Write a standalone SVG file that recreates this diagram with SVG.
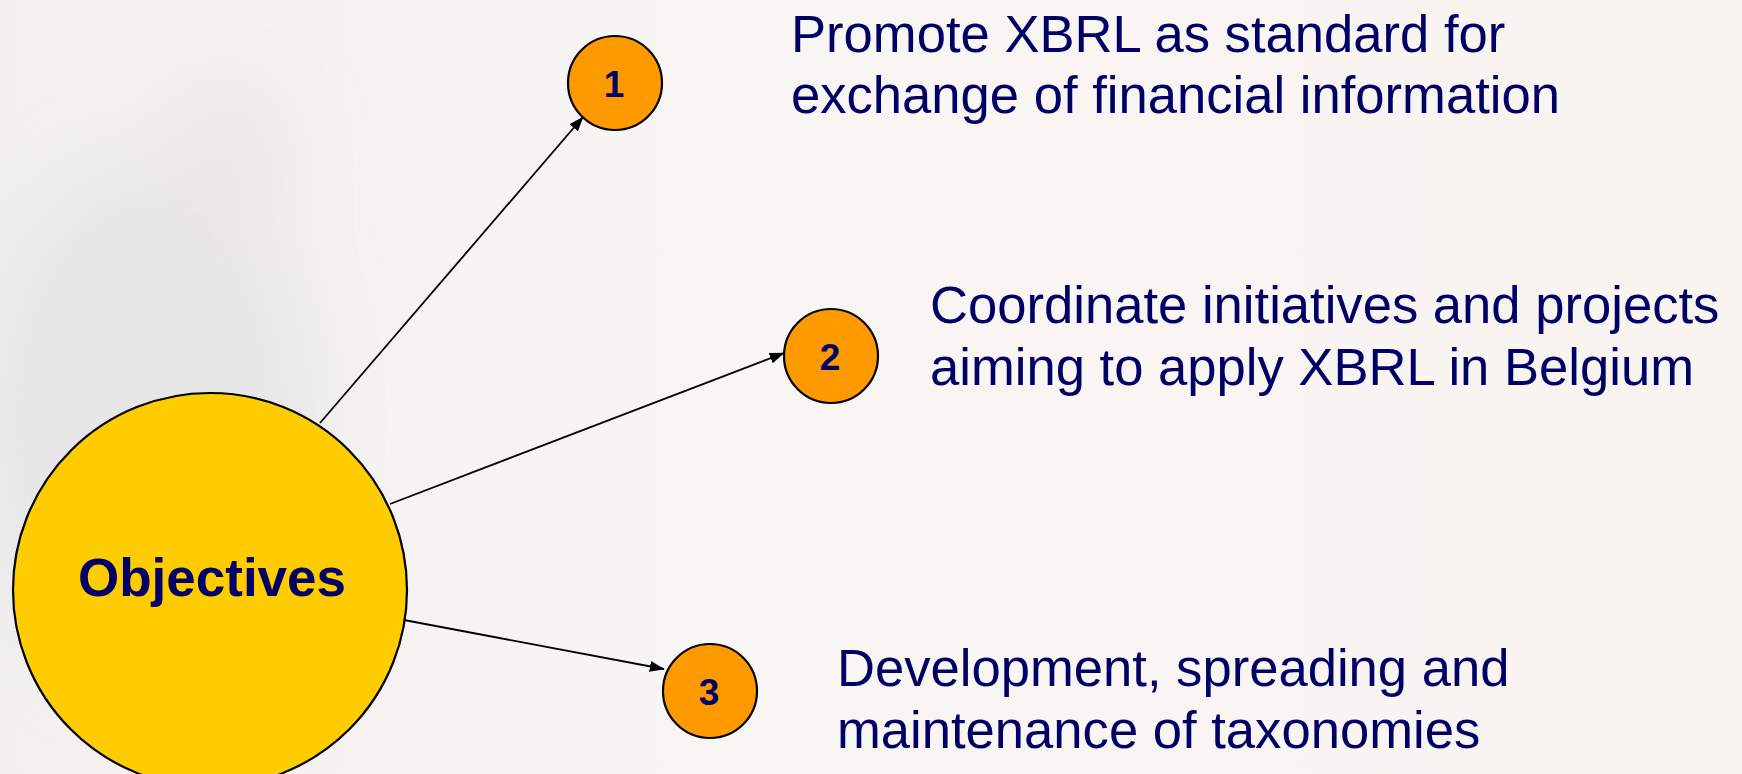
<svg xmlns="http://www.w3.org/2000/svg" width="1742" height="774" viewBox="0 0 1742 774">
<style>
.desc{font-family:"Liberation Sans",Arial,sans-serif;font-size:52.6px;fill:#000066}
.num{font-family:"Liberation Sans",Arial,sans-serif;font-size:37px;font-weight:bold;fill:#000066;text-anchor:middle}
.main{font-family:"Liberation Sans",Arial,sans-serif;font-size:53px;font-weight:bold;fill:#000066;text-anchor:middle}
.small{fill:#FF9900;stroke:#000;stroke-width:2.2}
.big{fill:#FFCC00;stroke:#000;stroke-width:2.2}
.conn line{stroke:#000;stroke-width:1.8;marker-end:url(#arr)}
</style>
<defs>
<marker id="arr" viewBox="0 0 10 10" refX="9.5" refY="5" markerWidth="15" markerHeight="11" markerUnits="userSpaceOnUse" orient="auto" preserveAspectRatio="none">
<path d="M0,0 L10,5 L0,10 z" fill="#000"/>
</marker>
<filter id="blur" x="-50%" y="-50%" width="200%" height="200%"><feGaussianBlur stdDeviation="40"/></filter>
<linearGradient id="bg" x1="0" y1="0" x2="1" y2="0">
<stop offset="0" stop-color="#f1f0ef"/>
<stop offset="0.4" stop-color="#f8f6f4"/>
<stop offset="1" stop-color="#f8f4f0"/>
</linearGradient>
</defs>
<rect width="1742" height="774" fill="url(#bg)"/>
<g filter="url(#blur)" opacity="0.7">
<ellipse cx="150" cy="420" rx="170" ry="260" fill="#e2e2e4"/>
<ellipse cx="230" cy="170" rx="60" ry="90" fill="#e6e4e0"/>
</g>
<g class="conn" id="connectors">
<line x1="320" y1="423" x2="583" y2="117"/>
<line x1="390" y1="504" x2="784" y2="353"/>
<line x1="404" y1="620" x2="664" y2="669"/>
</g>
<g id="objectives">
<circle class="big" cx="210" cy="590" r="197"/>
<text class="main" x="212" y="596">Objectives</text>
</g>
<g id="node1">
<circle class="small" cx="615" cy="83" r="47"/>
<text class="num" x="614" y="97">1</text>
</g>
<g id="node2">
<circle class="small" cx="831" cy="356" r="47"/>
<text class="num" x="830" y="370">2</text>
</g>
<g id="node3">
<circle class="small" cx="710" cy="691" r="47"/>
<text class="num" x="709" y="705">3</text>
</g>
<g id="text1">
<text class="desc" x="791" y="52">Promote XBRL as standard for</text>
<text class="desc" x="791" y="113">exchange of financial information</text>
</g>
<g id="text2">
<text class="desc" x="930" y="323">Coordinate initiatives and projects</text>
<text class="desc" x="930" y="385">aiming to apply XBRL in Belgium</text>
</g>
<g id="text3">
<text class="desc" x="837" y="686">Development, spreading and</text>
<text class="desc" x="837" y="748">maintenance of taxonomies</text>
</g>
</svg>
